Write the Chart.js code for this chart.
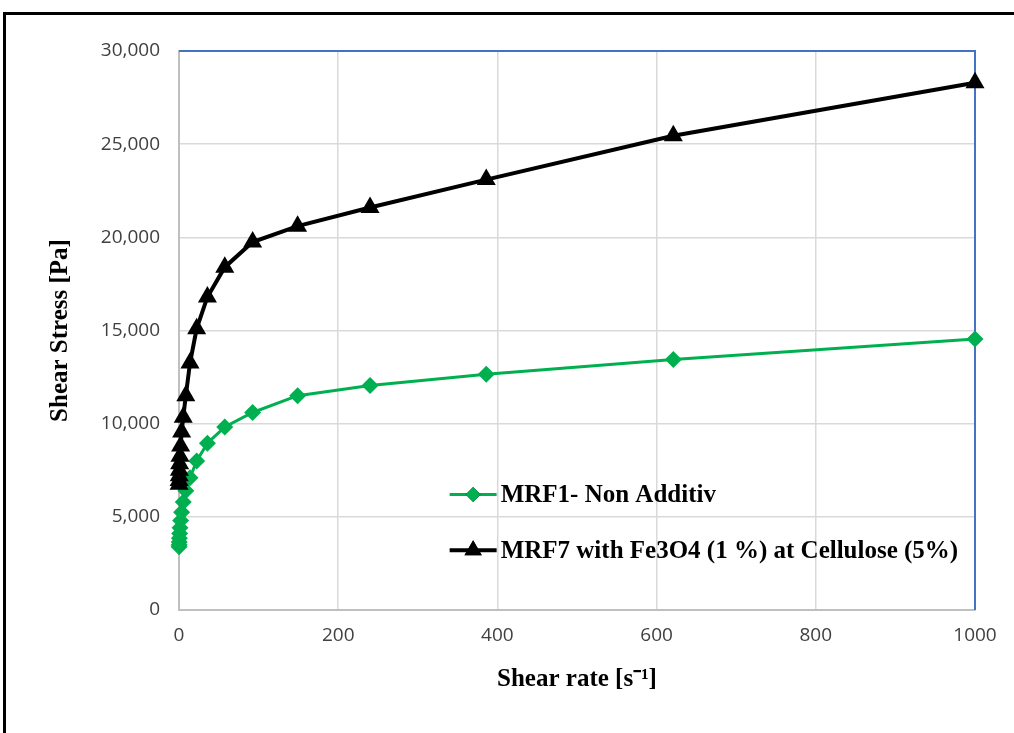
<!DOCTYPE html>
<html>
<head>
<meta charset="utf-8">
<script src="https://cdn.jsdelivr.net/npm/chart.js@4/dist/chart.umd.min.js"></script>
<style>
  html, body { margin: 0; padding: 0; background: #fff; }
  #wrap { position: relative; width: 1014px; height: 733px; }
  #frame { position: absolute; left: 3px; top: 12px; width: 1100px; height: 800px;
           border-left: 3px solid #000; border-top: 3px solid #000; }
  canvas { position: absolute; left: 0; top: 0; }
</style>
</head>
<body>
<div id="wrap">
  <div id="frame"></div>
  <canvas id="chart" width="1014" height="733"></canvas>
</div>
<script>
// shear rate [1/s]
const shearRate = [0.12, 0.19, 0.31, 0.49, 0.79, 1.28, 2.06, 3.31, 5.33, 8.57,
                   13.8, 22.2, 35.7, 57.5, 92.5, 149, 240, 386, 621, 1000];
// shear stress [Pa]
const mrf1 = [3400, 3500, 3650, 3850, 4100, 4420, 4800, 5250, 5800, 6400,
              7100, 8000, 8950, 9820, 10600, 11500, 12050, 12650, 13450, 14550];
const mrf7 = [6750, 6950, 7200, 7500, 7850, 8250, 8800, 9550, 10350, 11500,
              13250, 15100, 16800, 18400, 19750, 20600, 21600, 23100, 25450, 28300];
const seriesLabels = ['MRF1- Non Additiv', 'MRF7 with Fe3O4 (1 %) at Cellulose (5%)'];
const xTicks = [0, 200, 400, 600, 800, 1000];
const yTicks = [0, 5000, 10000, 15000, 20000, 25000, 30000];

const toPoints = ys => shearRate.map((x, i) => ({ x: x, y: ys[i] }));

// blue top/right edge of the plot area
const plotEdges = {
  id: 'plotEdges',
  beforeDatasetsDraw(chart) {
    const { ctx, chartArea: a } = chart;
    ctx.save();
    ctx.strokeStyle = '#4472c4';
    ctx.lineWidth = 2;
    ctx.beginPath();
    ctx.moveTo(a.left, a.top);
    ctx.lineTo(a.right, a.top);
    ctx.lineTo(a.right, a.bottom);
    ctx.stroke();
    ctx.restore();
  }
};

// legend inside the plot, as in the original
const innerLegend = {
  id: 'innerLegend',
  afterDraw(chart) {
    const { ctx, scales } = chart;
    const x0 = scales.x.getPixelForValue(340);
    const rows = [scales.y.getPixelForValue(6200), scales.y.getPixelForValue(3200)];
    ctx.save();
    ctx.font = 'bold 25px "Liberation Serif"';
    ctx.textBaseline = 'middle';
    chart.data.datasets.forEach((ds, i) => {
      const y = rows[i];
      ctx.strokeStyle = ds.borderColor;
      ctx.lineWidth = ds.borderWidth;
      ctx.beginPath();
      ctx.moveTo(x0, y);
      ctx.lineTo(x0 + 47, y);
      ctx.stroke();
      Chart.helpers.drawPoint(ctx, {
        pointStyle: ds.pointStyle, radius: ds.pointRadius - 1, borderWidth: 0
      }, x0 + 23.5, y);
      ctx.fillStyle = ds.pointBackgroundColor;
      ctx.fill();
      ctx.fillStyle = '#000';
      ctx.fillText(ds.label, x0 + 51, y + 1);
    });
    ctx.restore();
  }
};

new Chart(document.getElementById('chart'), {
  type: 'line',
  data: {
    datasets: [
      {
        label: seriesLabels[0],
        data: toPoints(mrf1),
        borderColor: '#00b050',
        backgroundColor: '#00b050',
        pointBackgroundColor: '#00b050',
        pointBorderColor: '#00b050',
        borderWidth: 3,
        pointStyle: 'rectRot',
        pointRadius: 8.5,
        pointBorderWidth: 0,
        clip: false,
        order: 1
      },
      {
        label: seriesLabels[1],
        data: toPoints(mrf7),
        borderColor: '#000000',
        backgroundColor: '#000000',
        pointBackgroundColor: '#000000',
        pointBorderColor: '#000000',
        borderWidth: 4,
        pointStyle: 'triangle',
        pointRadius: 11,
        pointBorderWidth: 0,
        clip: false,
        order: 0
      }
    ]
  },
  options: {
    responsive: false,
    animation: false,
    layout: { padding: { top: 51, right: 39, left: 0, bottom: 0 } },
    plugins: { legend: { display: false }, tooltip: { enabled: false } },
    elements: { line: { tension: 0 } },
    scales: {
      x: {
        type: 'linear',
        min: 0, max: 1000,
        afterBuildTicks: s => { s.ticks = xTicks.map(v => ({ value: v })); },
        afterFit: s => { s.height = 123; },
        grid: { color: '#d9d9d9', lineWidth: 1.5, drawTicks: false },
        border: { color: '#bfbfbf', width: 2 },
        ticks: {
          color: '#404040', font: { family: 'Open Sans', size: 19 }, padding: 14, maxRotation: 0,
          callback: v => String(v)
        },
        title: {
          display: true,
          text: 'Shear rate [s\u207B\u00B9]',
          color: '#000',
          font: { family: 'Liberation Serif', size: 25, weight: 'bold' },
          padding: { top: 10, bottom: 38 }
        }
      },
      y: {
        min: 0, max: 30000,
        afterBuildTicks: s => { s.ticks = yTicks.map(v => ({ value: v })); },
        afterFit: s => { s.width = 179; },
        grid: { color: '#d9d9d9', lineWidth: 1.5, drawTicks: false },
        border: { color: '#bfbfbf', width: 2 },
        ticks: {
          color: '#404040', font: { family: 'Open Sans', size: 19 }, padding: 19,
          callback: v => v.toLocaleString('en-US')
        },
        title: {
          display: true,
          text: 'Shear Stress [Pa]',
          color: '#000',
          font: { family: 'Liberation Serif', size: 25, weight: 'bold' },
          padding: { top: 46, bottom: 0 }
        }
      }
    }
  },
  plugins: [plotEdges, innerLegend]
});
</script>
</body>
</html>
